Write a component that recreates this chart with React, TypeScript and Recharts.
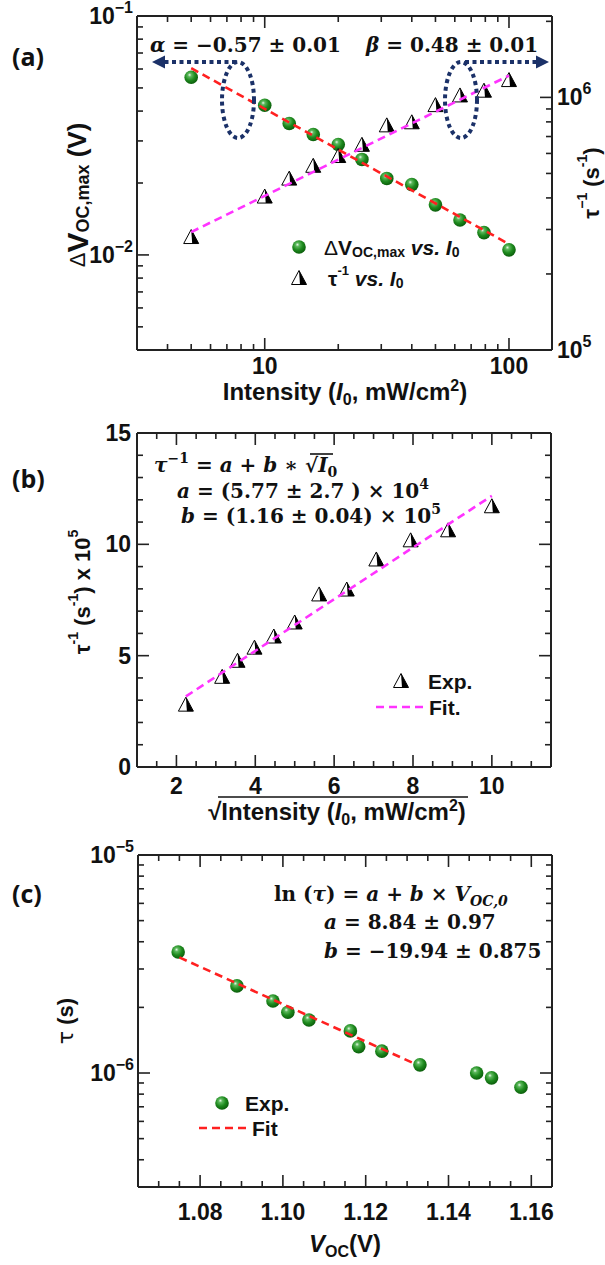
import React from 'react';
import { ComposedChart, Scatter, XAxis, YAxis } from 'recharts';

const SANS = '"Liberation Sans", Arial, sans-serif';
const SERIF = '"DejaVu Serif", serif';
const LBL = '"Open Sans", "Liberation Sans", sans-serif';
const INK = '#111';
const NAVY = '#1b3168';
const RED = '#ff2020';
const MAGENTA = '#ff33ff';

// ---------- Panel (a) data ----------
const intensity = [5, 10, 12.6, 15.8, 20, 25, 31.6, 40, 50, 63, 79, 100];
const dVocMax = [0.0554, 0.0423, 0.0355, 0.0319, 0.029, 0.0251, 0.0209, 0.0197, 0.0162, 0.014, 0.0124, 0.0105];
const invTau = [2.8e5, 4.05e5, 4.77e5, 5.36e5, 5.86e5, 6.49e5, 7.75e5, 7.97e5, 9.32e5, 10.18e5, 10.63e5, 11.71e5];
const fitDVocI = [5, 100];
const fitDVocV = [0.0605, 0.0111];
const fitInvTauI = [5, 100];
const fitInvTauV = [2.93e5, 1.22e6];

// ---------- Panel (b) data ----------
const sqrtIntensity = [2.24, 3.16, 3.55, 3.98, 4.47, 5.0, 5.62, 6.32, 7.07, 7.94, 8.89, 10.0];
const invTauE5 = [2.8, 4.05, 4.77, 5.36, 5.86, 6.49, 7.75, 7.97, 9.32, 10.18, 10.63, 11.71];
const fitBX = [2.24, 10];
const fitBY = [3.17, 12.18];

// ---------- Panel (c) data ----------
const vocC = [1.0747, 1.0889, 1.0976, 1.1012, 1.1063, 1.1163, 1.1183, 1.1239, 1.1331, 1.1468, 1.1504, 1.1575];
const tauC = [3.59e-6, 2.51e-6, 2.14e-6, 1.9e-6, 1.75e-6, 1.56e-6, 1.32e-6, 1.26e-6, 1.09e-6, 1.0e-6, 0.95e-6, 0.86e-6];
const fitCX = [1.075, 1.132];
const fitCY = [3.39e-6, 1.1e-6];

// ---------- ticks ----------
const ticksAX = [4, 5, 6, 7, 8, 9, 10, 20, 30, 40, 50, 60, 70, 80, 90, 100];
const majorsAX = [10, 100];
const ticksAL = [0.005, 0.006, 0.007, 0.008, 0.009, 0.01, 0.02, 0.03, 0.04, 0.05, 0.06, 0.07, 0.08, 0.09, 0.1];
const majorsAL = [0.01, 0.1];
const ticksAR = [1e5, 2e5, 3e5, 4e5, 5e5, 6e5, 7e5, 8e5, 9e5, 1e6, 2e6];
const majorsAR = [1e5, 1e6];
const ticksBX = [1.5, 2, 2.5, 3, 3.5, 4, 4.5, 5, 5.5, 6, 6.5, 7, 7.5, 8, 8.5, 9, 9.5, 10, 10.5, 11];
const majorsBX = [2, 4, 6, 8, 10];
const ticksBY = [0, 1, 2, 3, 4, 5, 6, 7, 8, 9, 10, 11, 12, 13, 14, 15];
const majorsBY = [0, 5, 10, 15];
const ticksCX = [1.07, 1.075, 1.08, 1.085, 1.09, 1.095, 1.1, 1.105, 1.11, 1.115, 1.12, 1.125, 1.13, 1.135, 1.14, 1.145, 1.15, 1.155, 1.16];
const majorsCX = [1.08, 1.1, 1.12, 1.14, 1.16];
const ticksCY = [4e-7, 5e-7, 6e-7, 7e-7, 8e-7, 9e-7, 1e-6, 2e-6, 3e-6, 4e-6, 5e-6, 6e-6, 7e-6, 8e-6, 9e-6, 1e-5];
const majorsCY = [1e-6, 1e-5];

const pts = (xs: number[], ys: number[]) => xs.map((x, i) => ({ x, y: ys[i] }));

type Side = 'left' | 'right' | 'top' | 'bottom';
const isIn = (v: number, arr: number[]) => arr.some((m) => Math.abs(m - v) <= Math.abs(m) * 1e-6 + 1e-12);

const pow10 = (v: number) => {
  const e = Math.round(Math.log10(v));
  return [
    <tspan key="b">10</tspan>,
    <tspan key="e" dy={-9} fontSize={16}>{e < 0 ? '\u2212' + -e : String(e)}</tspan>,
  ];
};

function mkTick(side: Side, majors: number[], label: ((v: number) => any) | null, o: { maj: number; min: number; gap: number; fs: number }) {
  return (p: any) => {
    const { x, y, payload } = p;
    const v = payload.value;
    const major = isIn(v, majors);
    const len = major ? o.maj : o.min;
    let x2 = x;
    let y2 = y;
    if (side === 'bottom') y2 = y - len;
    else if (side === 'top') y2 = y + len;
    else if (side === 'left') x2 = x + len;
    else x2 = x - len;
    let tx = x;
    let ty = y;
    let anchor: any = 'middle';
    if (side === 'bottom') ty = y + o.gap;
    else if (side === 'left') { tx = x - o.gap; anchor = 'end'; }
    else if (side === 'right') { tx = x + o.gap; anchor = 'start'; }
    const lab = major && label ? label(v) : null;
    return (
      <g>
        <line x1={x} y1={y} x2={x2} y2={y2} stroke="#222" strokeWidth={1.6} />
        {lab !== null && (
          <text x={tx} y={ty} textAnchor={anchor} dominantBaseline="central" fontFamily={SANS} fontWeight={700} fontSize={o.fs} fill={INK}>
            {lab}
          </text>
        )}
      </g>
    );
  };
}

const GreenDot = (p: any) => <circle cx={p.cx} cy={p.cy} r={6.8} fill="url(#gball)" />;
const HalfTri = (p: any) => {
  const { cx, cy } = p;
  const h = 7.5;
  const b = cy + 6.5;
  return (
    <g>
      <polygon points={`${cx},${cy - h} ${cx - h},${b} ${cx + h},${b}`} fill="#fff" stroke="#000" strokeWidth={1} />
      <polygon points={`${cx},${cy - h} ${cx + h},${b} ${cx + 1},${b}`} fill="#000" />
    </g>
  );
};
const NoShape = () => <g />;

const axisLine = { stroke: '#222', strokeWidth: 2 };
const common = { type: 'number' as const, allowDataOverflow: true, interval: 0 as const, tickSize: 0, tickMargin: 0, tickLine: false, axisLine };
const FS = 23;

const dash = (c: string) => ({ stroke: c, strokeWidth: 2.6, strokeDasharray: '8 5', fill: 'none' });

function PanelA() {
  return (
    <ComposedChart width={605} height={420} margin={{ top: 0, right: 0, bottom: 0, left: 0 }}>
      <XAxis {...common} dataKey="x" xAxisId="b" orientation="bottom" scale="log" domain={[3, 150]} ticks={ticksAX} height={70}
        tick={mkTick('bottom', majorsAX, (v) => String(v), { maj: 12, min: 6, gap: 16, fs: FS })} />
      <XAxis {...common} dataKey="x" xAxisId="t" orientation="top" scale="log" domain={[3, 150]} ticks={ticksAX} height={16}
        tick={mkTick('top', majorsAX, null, { maj: 12, min: 6, gap: 0, fs: FS })} />
      <YAxis {...common} dataKey="y" yAxisId="l" orientation="left" scale="log" domain={[0.004, 0.1]} ticks={ticksAL} width={137}
        tick={mkTick('left', majorsAL, pow10, { maj: 12, min: 6, gap: 4, fs: FS })} />
      <YAxis {...common} dataKey="y" yAxisId="r" orientation="right" scale="log" domain={[1e5, 2.1e6]} ticks={ticksAR} width={53}
        tick={mkTick('right', majorsAR, pow10, { maj: 12, min: 6, gap: 5, fs: FS })} />
      <Scatter xAxisId="b" yAxisId="l" data={pts(intensity, dVocMax)} shape={GreenDot} isAnimationActive={false} />
      <Scatter xAxisId="b" yAxisId="r" data={pts(intensity, invTau)} shape={HalfTri} isAnimationActive={false} />
      <Scatter xAxisId="b" yAxisId="l" data={pts(fitDVocI, fitDVocV)} shape={NoShape} line={dash(RED)} isAnimationActive={false} />
      <Scatter xAxisId="b" yAxisId="r" data={pts(fitInvTauI, fitInvTauV)} shape={NoShape} line={dash(MAGENTA)} isAnimationActive={false} />
    </ComposedChart>
  );
}

function PanelB() {
  return (
    <ComposedChart width={605} height={420} margin={{ top: 0, right: 0, bottom: 0, left: 0 }}>
      <XAxis {...common} dataKey="x" xAxisId="b" orientation="bottom" domain={[1, 11.5]} ticks={ticksBX} height={73}
        tick={mkTick('bottom', majorsBX, (v) => String(v), { maj: 12, min: 6, gap: 19, fs: FS })} />
      <XAxis {...common} dataKey="x" xAxisId="t" orientation="top" domain={[1, 11.5]} ticks={ticksBX} height={13}
        tick={mkTick('top', majorsBX, null, { maj: 12, min: 6, gap: 0, fs: FS })} />
      <YAxis {...common} dataKey="y" yAxisId="l" orientation="left" domain={[0, 15]} ticks={ticksBY} width={137}
        tick={mkTick('left', majorsBY, (v) => String(v), { maj: 12, min: 6, gap: 6, fs: FS })} />
      <YAxis {...common} dataKey="y" yAxisId="r" orientation="right" domain={[0, 15]} ticks={ticksBY} width={54}
        tick={mkTick('right', majorsBY, null, { maj: 12, min: 6, gap: 5, fs: FS })} />
      <Scatter xAxisId="b" yAxisId="l" data={pts(sqrtIntensity, invTauE5)} shape={HalfTri} isAnimationActive={false} />
      <Scatter xAxisId="b" yAxisId="l" data={pts(fitBX, fitBY)} shape={NoShape} line={dash(MAGENTA)} isAnimationActive={false} />
    </ComposedChart>
  );
}

function PanelC() {
  return (
    <ComposedChart width={605} height={437} margin={{ top: 0, right: 0, bottom: 0, left: 0 }}>
      <XAxis {...common} dataKey="x" xAxisId="b" orientation="bottom" domain={[1.065, 1.165]} ticks={ticksCX} height={78}
        tick={mkTick('bottom', majorsCX, (v) => v.toFixed(2), { maj: 12, min: 6, gap: 25, fs: FS })} />
      <XAxis {...common} dataKey="x" xAxisId="t" orientation="top" domain={[1.065, 1.165]} ticks={ticksCX} height={27}
        tick={mkTick('top', majorsCX, null, { maj: 12, min: 6, gap: 0, fs: FS })} />
      <YAxis {...common} dataKey="y" yAxisId="l" orientation="left" scale="log" domain={[3e-7, 1e-5]} ticks={ticksCY} width={138}
        tick={mkTick('left', majorsCY, pow10, { maj: 12, min: 6, gap: 4, fs: FS })} />
      <YAxis {...common} dataKey="y" yAxisId="r" orientation="right" scale="log" domain={[3e-7, 1e-5]} ticks={ticksCY} width={53}
        tick={mkTick('right', majorsCY, null, { maj: 12, min: 6, gap: 5, fs: FS })} />
      <Scatter xAxisId="b" yAxisId="l" data={pts(vocC, tauC)} shape={GreenDot} isAnimationActive={false} />
      <Scatter xAxisId="b" yAxisId="l" data={pts(fitCX, fitCY)} shape={NoShape} line={dash(RED)} isAnimationActive={false} />
    </ComposedChart>
  );
}

const it = { fontStyle: 'italic' as const };

function Overlay() {
  const sans = { fontFamily: SANS, fontWeight: 700, fill: INK };
  const serif = { fontFamily: SERIF, fontWeight: 700, fill: INK, fontSize: 20 };
  return (
    <svg width={605} height={1265} style={{ position: 'absolute', left: 0, top: 0, pointerEvents: 'none' }}>
      {/* panel labels */}
      <text x={12} y={56} dominantBaseline="central" fontFamily={LBL} fontWeight={700} fontSize={25} fill={INK}>(a)</text>
      <text x={12} y={478} dominantBaseline="central" fontFamily={LBL} fontWeight={700} fontSize={25} fill={INK}>(b)</text>
      <text x={12} y={893} dominantBaseline="central" fontFamily={LBL} fontWeight={700} fontSize={25} fill={INK}>(c)</text>

      {/* ---------- panel (a) ---------- */}
      <text x={150} y={52} {...serif}><tspan {...it}>α</tspan> = −0.57 ± 0.01</text>
      <text x={366} y={52} {...serif}><tspan {...it}>β</tspan> = 0.48 ± 0.01</text>
      <g stroke={NAVY} strokeWidth={4} strokeDasharray="4 3.5" fill="none">
        <ellipse cx={238} cy={100} rx={16} ry={38} />
        <line x1={236} y1={62} x2={163} y2={62} />
        <ellipse cx={461} cy={100} rx={16} ry={38} />
        <line x1={465} y1={62} x2={537} y2={62} />
      </g>
      <polygon points="152,62 165,55.5 165,68.5" fill={NAVY} />
      <polygon points="549,62 536,55.5 536,68.5" fill={NAVY} />
      <GreenDot cx={299} cy={247} />
      <text x={324} y={247} dominantBaseline="central" {...sans} fontSize={21}>
        <tspan fontWeight={400}>Δ</tspan>V<tspan dy={5} fontSize={14}>OC,max</tspan><tspan dy={-5}> </tspan><tspan {...it}>vs. I</tspan><tspan dy={5} fontSize={14}>0</tspan>
      </text>
      <HalfTri cx={299} cy={278} />
      <text x={328} y={278} dominantBaseline="central" {...sans} fontSize={21}>
        τ<tspan dy={-8} fontSize={13}>-1</tspan><tspan dy={8}> </tspan><tspan {...it}>vs. I</tspan><tspan dy={5} fontSize={14}>0</tspan>
      </text>
      <text x={345} y={400} textAnchor="middle" {...sans} fontSize={24}>
        Intensity (<tspan {...it}>I</tspan><tspan dy={5} fontSize={16}>0</tspan><tspan dy={-5}>, mW/cm</tspan><tspan dy={-9} fontSize={16}>2</tspan><tspan dy={9}>)</tspan>
      </text>
      <text transform="rotate(-90)" x={-195} y={77} textAnchor="middle" dominantBaseline="central" {...sans} fontSize={26}>
        <tspan fontWeight={400} fontSize={22}>Δ</tspan><tspan fontSize={30}>V</tspan><tspan dy={6} fontSize={18}>OC,max</tspan><tspan dy={-6}> (V)</tspan>
      </text>
      <text transform="rotate(-90)" x={-183} y={591} textAnchor="middle" dominantBaseline="central" {...sans} fontSize={22}>
        τ<tspan dy={-9} fontSize={14}>−1</tspan><tspan dy={9}> (s</tspan><tspan dy={-9} fontSize={14}>-1</tspan><tspan dy={9}>)</tspan>
      </text>

      {/* ---------- panel (b) ---------- */}
      <text x={154} y={472} {...serif}>
        <tspan {...it}>τ</tspan><tspan dy={-9} fontSize={14}>−1</tspan><tspan dy={9}> = </tspan><tspan {...it}>a</tspan> + <tspan {...it}>b</tspan> ∗ √<tspan {...it}>I</tspan><tspan dy={5} fontSize={14}>0</tspan>
      </text>
      <line x1={310} y1={454} x2={333} y2={454} stroke={INK} strokeWidth={1.6} />
      <text x={177} y={498} {...serif}>
        <tspan {...it}>a</tspan> = (5.77 ± 2.7 ) × 10<tspan dy={-9} fontSize={14}>4</tspan>
      </text>
      <text x={181} y={523} {...serif}>
        <tspan {...it}>b</tspan> = (1.16 ± 0.04) × 10<tspan dy={-9} fontSize={14}>5</tspan>
      </text>
      <HalfTri cx={401} cy={681} />
      <text x={428} y={681} dominantBaseline="central" {...sans} fontSize={21}>Exp.</text>
      <line x1={376} y1={707} x2={424} y2={707} {...dash(MAGENTA)} />
      <text x={429} y={707} dominantBaseline="central" {...sans} fontSize={21}>Fit.</text>
      <text x={337} y={820} textAnchor="middle" {...sans} fontSize={24}>
        √Intensity (<tspan {...it}>I</tspan><tspan dy={5} fontSize={16}>0</tspan><tspan dy={-5}>, mW/cm</tspan><tspan dy={-9} fontSize={16}>2</tspan><tspan dy={9}>)</tspan>
      </text>
      <line x1={218} y1={797} x2={468} y2={797} stroke={INK} strokeWidth={1.6} />
      <text transform="rotate(-90)" x={-592} y={82} textAnchor="middle" dominantBaseline="central" {...sans} fontSize={22}>
        τ<tspan dy={-9} fontSize={14}>-1</tspan><tspan dy={9}> (s</tspan><tspan dy={-9} fontSize={14}>-1</tspan><tspan dy={9}>) x 10</tspan><tspan dy={-9} fontSize={14}>5</tspan>
      </text>

      {/* ---------- panel (c) ---------- */}
      <text x={274} y={901} {...serif}>
        ln (<tspan {...it}>τ</tspan>) = <tspan {...it}>a</tspan> + <tspan {...it}>b</tspan> × <tspan {...it}>V</tspan><tspan {...it} dy={5} fontSize={14}>OC,0</tspan>
      </text>
      <text x={324} y={929} {...serif}><tspan {...it}>a</tspan> = 8.84 ± 0.97</text>
      <text x={324} y={958} {...serif}><tspan {...it}>b</tspan> = −19.94 ± 0.875</text>
      <GreenDot cx={222} cy={1103} />
      <text x={245} y={1103} dominantBaseline="central" {...sans} fontSize={21}>Exp.</text>
      <line x1={199} y1={1128} x2={247} y2={1128} {...dash(RED)} />
      <text x={252} y={1128} dominantBaseline="central" {...sans} fontSize={21}>Fit</text>
      <text x={345} y={1252} textAnchor="middle" {...sans} fontSize={24}>
        <tspan {...it}>V</tspan><tspan dy={5} fontSize={16}>OC</tspan><tspan dy={-5}>(V)</tspan>
      </text>
      <text transform="rotate(-90)" x={-1021} y={65} textAnchor="middle" dominantBaseline="central" {...sans} fontSize={22}>
        <tspan fontWeight={400} fontFamily={'"DejaVu Sans", sans-serif'}>τ</tspan> (s)
      </text>
    </svg>
  );
}

export default function App() {
  return (
    <div style={{ position: 'absolute', left: 0, top: 0, width: 605, height: 1265, background: '#fff', overflow: 'hidden' }}>
      <svg width={0} height={0} style={{ position: 'absolute' }}>
        <defs>
          <radialGradient id="gball" cx="0.42" cy="0.38" r="0.62" fx="0.38" fy="0.32">
            <stop offset="0" stopColor="#e8f8e8" />
            <stop offset="0.22" stopColor="#5cb85c" />
            <stop offset="0.6" stopColor="#1e8a1e" />
            <stop offset="1" stopColor="#0b5e0b" />
          </radialGradient>
        </defs>
      </svg>
      <div style={{ position: 'absolute', left: 0, top: 0 }}><PanelA /></div>
      <div style={{ position: 'absolute', left: 0, top: 420 }}><PanelB /></div>
      <div style={{ position: 'absolute', left: 0, top: 828 }}><PanelC /></div>
      <Overlay />
    </div>
  );
}
